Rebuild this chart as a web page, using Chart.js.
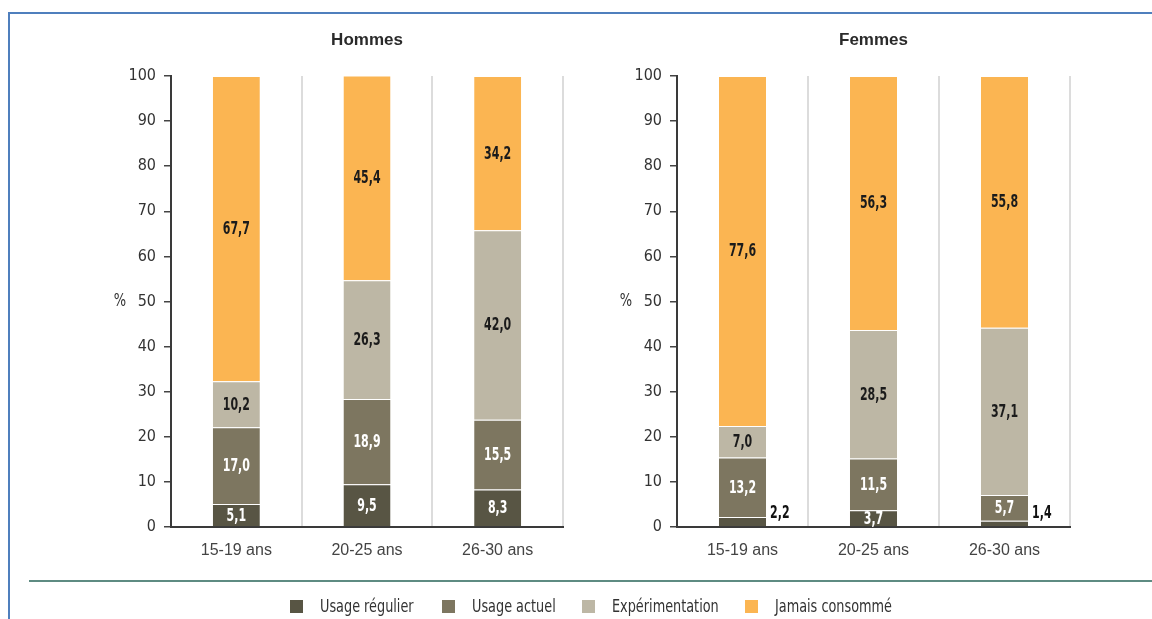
<!DOCTYPE html>
<html>
<head>
<meta charset="utf-8">
<script src="https://cdn.jsdelivr.net/npm/chart.js@4"></script>
<style>
  body{margin:0;background:#fff;}
  #wrap{position:relative;width:1152px;height:619px;overflow:hidden;}
  #wrap canvas{position:absolute;left:0;top:0;}
  .frameTop{position:absolute;left:8px;top:12px;right:0;height:2px;background:#4f7fbd;}
  .frameLeft{position:absolute;left:8px;top:12px;width:2px;bottom:0;background:#4f7fbd;}
  .rule{position:absolute;left:29px;right:0;top:580px;height:2px;background:#5e8b82;}
  .leg{position:absolute;top:597px;height:18px;display:flex;align-items:center;
       font:17px "DejaVu Sans Condensed",sans-serif;color:#333;white-space:nowrap;}
  .leg span.box{display:inline-block;width:13px;height:13px;margin-right:17px;}
  .leg span.txt{display:inline-block;transform:scaleX(0.84);transform-origin:left center;}
</style>
</head>
<body>
<div id="wrap">
  <div class="frameTop"></div>
  <div class="frameLeft"></div>
  <canvas id="hommes" width="1152" height="619"></canvas>
  <canvas id="femmes" width="1152" height="619"></canvas>
  <div class="rule"></div>
  <div id="legend"></div>
</div>
<script>
// categories and series
const ageGroups = ['15-19 ans', '20-25 ans', '26-30 ans'];
const seriesNames = ['Usage régulier', 'Usage actuel', 'Expérimentation', 'Jamais consommé'];
const seriesColors = ['#585544', '#7d7660', '#bdb7a5', '#fbb552'];
const labelColors = ['#ffffff', '#ffffff', '#1b1b1b', '#1b1b1b'];

// Hommes (%)
const hommesRegulier = [5.1, 9.5, 8.3];
const hommesActuel = [17.0, 18.9, 15.5];
const hommesExperimentation = [10.2, 26.3, 42.0];
const hommesJamais = [67.7, 45.4, 34.2];

// Femmes (%)
const femmesRegulier = [2.2, 3.7, 1.4];
const femmesActuel = [13.2, 11.5, 5.7];
const femmesExperimentation = [7.0, 28.5, 37.1];
const femmesJamais = [77.6, 56.3, 55.8];

const yMin = 0, yMax = 100, yStep = 10;

const narrow = '"DejaVu Sans Condensed",sans-serif';

// draws text squeezed horizontally, like the condensed face of the original
function narrowText(ctx, txt, x, y, sx){
    ctx.save();
    ctx.translate(x, y);
    ctx.scale(sx, 1);
    ctx.fillText(txt, 0, 0);
    ctx.restore();
}

// value labels inside the segments, thin ones go beside the bar
const valueLabels = {
    id: 'valueLabels',
    afterDatasetsDraw(chart){
        const ctx = chart.ctx;
        ctx.save();
        ctx.font = 'bold 17px ' + narrow;
        ctx.textBaseline = 'middle';
        chart.data.datasets.forEach((ds, i)=>{
            const meta = chart.getDatasetMeta(i);
            meta.data.forEach((bar, j)=>{
                const v = ds.data[j];
                const txt = v.toFixed(1).replace('.', ',');
                if(v < 3){
                    ctx.fillStyle = '#111';
                    ctx.textAlign = 'left';
                    narrowText(ctx, txt, bar.x + bar.width/2 + 4, bar.base - 13, 0.72);
                } else {
                    ctx.fillStyle = labelColors[i];
                    ctx.textAlign = 'center';
                    narrowText(ctx, txt, bar.x, (bar.y + bar.base)/2 + 1, 0.72);
                }
            });
        });
        ctx.restore();
    }
};

// panel title and the % unit
const panelText = {
    id: 'panelText',
    afterDraw(chart, args, opts){
        const ctx = chart.ctx, a = chart.chartArea;
        ctx.save();
        ctx.fillStyle = '#2a2a2a';
        ctx.textAlign = 'center';
        ctx.textBaseline = 'middle';
        ctx.font = 'bold 17px "Liberation Sans",Arial,sans-serif';
        ctx.fillText(opts.title, (a.left + a.right)/2, 40);
        ctx.font = '17px ' + narrow;
        ctx.fillStyle = '#333';
        narrowText(ctx, '%', a.left - 51, (a.top + a.bottom)/2, 0.85);
        ctx.restore();
    }
};

function makeChart(id, title, sets, padLeft, padRight){
    const datasets = sets.map((d, i)=>({
        label: seriesNames[i],
        data: d,
        backgroundColor: seriesColors[i],
        borderColor: 'rgba(255,255,255,0.3)',
        borderWidth: {top: 1, bottom: 0, left: 0, right: 0},
        borderSkipped: false,
        categoryPercentage: 1,
        barPercentage: 0.36
    }));
    return new Chart(document.getElementById(id), {
        type: 'bar',
        data: {labels: ageGroups, datasets},
        options: {
            responsive: false,
            animation: false,
            layout: {padding: {left: padLeft, right: padRight, top: 76, bottom: 49}},
            plugins: {
                legend: {display: false},
                tooltip: {enabled: false},
                panelText: {title}
            },
            scales: {
                x: {
                    stacked: true,
                    afterFit(s){ s.height = 43; },
                    grid: {offset: true, color: '#dcdcdc', lineWidth: 2, drawTicks: false},
                    border: {display: true, color: '#3a3a3a', width: 2},
                    ticks: {padding: 14, color: '#444', font: {family: '"Liberation Sans",Arial,sans-serif', size: 16}}
                },
                y: {
                    stacked: true,
                    min: yMin, max: yMax,
                    afterFit(s){ s.width = 71; },
                    grid: {drawOnChartArea: false, drawTicks: true, tickLength: 7, color: '#444', lineWidth: 1.5},
                    border: {display: true, color: '#3a3a3a', width: 2},
                    ticks: {stepSize: yStep, padding: 8, color: '#333', font: {family: narrow, size: 16}}
                }
            }
        },
        plugins: [valueLabels, panelText]
    });
}

makeChart('hommes', 'Hommes',
    [hommesRegulier, hommesActuel, hommesExperimentation, hommesJamais], 100, 589);
makeChart('femmes', 'Femmes',
    [femmesRegulier, femmesActuel, femmesExperimentation, femmesJamais], 606, 82);

// legend
const legendX = [290, 442, 582, 745];
const legend = document.getElementById('legend');
seriesNames.forEach((n, i)=>{
    const d = document.createElement('div');
    d.className = 'leg';
    d.style.left = legendX[i] + 'px';
    d.innerHTML = '<span class="box" style="background:' + seriesColors[i] + '"></span><span class="txt">' + n + '</span>';
    legend.appendChild(d);
});
</script>
</body>
</html>
